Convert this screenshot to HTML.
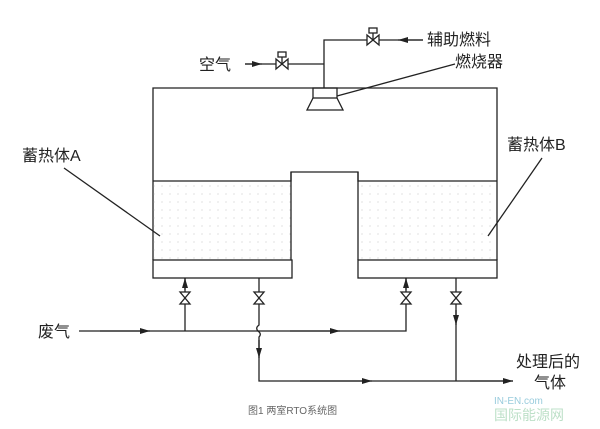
<!DOCTYPE html>
<html><head><meta charset="utf-8"><style>
html,body{margin:0;padding:0;background:#fff}
svg{display:block}
text{font-family:"Liberation Sans","Noto Sans CJK SC",sans-serif;fill:#222}
</style></head><body>
<svg width="600" height="429" viewBox="0 0 600 429" xmlns="http://www.w3.org/2000/svg">
<defs>
<pattern id="dots" width="8" height="8" patternUnits="userSpaceOnUse"><circle cx="2" cy="2" r="0.6" fill="#ccc"/></pattern>
<marker id="ar" viewBox="0 0 10 6" refX="10" refY="3" markerWidth="10" markerHeight="6" orient="auto" markerUnits="userSpaceOnUse"><path d="M0,0 L10,3 L0,6 Z" fill="#222"/></marker>
</defs>
<g stroke="#222" stroke-width="1.3" fill="none">
<path d="M153,260 V88 H497 V260"/>
<rect x="153" y="181" width="138" height="79" fill="url(#dots)" stroke="none"/>
<rect x="358" y="181" width="139" height="79" fill="url(#dots)" stroke="none"/>
<path d="M153,181 H291 V172 H358 V181 H497"/>
<path d="M291,172 V260 M358,172 V260"/>
<rect x="153" y="260" width="139" height="18"/>
<rect x="358" y="260" width="139" height="18"/>
<rect x="313" y="88" width="24" height="10"/>
<path d="M313,98 L307,110 H343 L337,98"/>
<path d="M324,88 V40 H423"/>
<path d="M245,64 H324"/>
<path d="M337,96 L455,64"/>
<path d="M64,168 L160,236"/>
<path d="M542,158 L488,236"/>
<path d="M79,331 H406 V278"/>
<path d="M185,331 V278"/>
<path d="M259,278 V325 Q255,328 258,331 Q262,334 259,337 V381 H513"/>
<path d="M456,278 V381"/>
</g>
<g stroke="#222" stroke-width="1.3">
<line x1="100" y1="331" x2="150" y2="331" marker-end="url(#ar)"/>
<line x1="290" y1="331" x2="340" y2="331" marker-end="url(#ar)"/>
<line x1="300" y1="381" x2="372" y2="381" marker-end="url(#ar)"/>
<line x1="470" y1="381" x2="513" y2="381" marker-end="url(#ar)"/>
<line x1="185" y1="290" x2="185" y2="278" marker-end="url(#ar)"/>
<line x1="406" y1="290" x2="406" y2="278" marker-end="url(#ar)"/>
<line x1="259" y1="340" x2="259" y2="358" marker-end="url(#ar)"/>
<line x1="456" y1="310" x2="456" y2="325" marker-end="url(#ar)"/>
<line x1="423" y1="40" x2="398" y2="40" marker-end="url(#ar)"/>
<line x1="245" y1="64" x2="262" y2="64" marker-end="url(#ar)"/>
</g>
<g stroke="#222" stroke-width="1.3" fill="#fff">
<g transform="translate(185,298)"><path d="M-5,-6 H5 L-5,6 H5 Z"/></g>
<g transform="translate(259,298)"><path d="M-5,-6 H5 L-5,6 H5 Z"/></g>
<g transform="translate(406,298)"><path d="M-5,-6 H5 L-5,6 H5 Z"/></g>
<g transform="translate(456,298)"><path d="M-5,-6 H5 L-5,6 H5 Z"/></g>
<g transform="translate(373,40)"><path d="M-6,-5 V5 L6,-5 V5 Z"/><rect x="-4" y="-12" width="8" height="5"/><line x1="0" y1="-7" x2="0" y2="0"/></g>
<g transform="translate(282,64)"><path d="M-6,-5 V5 L6,-5 V5 Z"/><rect x="-4" y="-12" width="8" height="5"/><line x1="0" y1="-7" x2="0" y2="0"/></g>
</g>
<g font-size="16">
<text x="199" y="70">空气</text>
<text x="427" y="45">辅助燃料</text>
<text x="455" y="67">燃烧器</text>
<text x="22" y="161">蓄热体A</text>
<text x="507" y="150">蓄热体B</text>
<text x="38" y="337">废气</text>
<text x="516" y="367">处理后的</text>
<text x="534" y="388">气体</text>
</g>
<text x="248" y="414" font-size="10" style="fill:#666">图1  两室RTO系统图</text>
<text x="494" y="404" font-size="10" style="fill:#9cd">IN-EN.com</text>
<text x="494" y="420" font-size="14" style="fill:#bde0c8">国际能源网</text>
</svg>
</body></html>
